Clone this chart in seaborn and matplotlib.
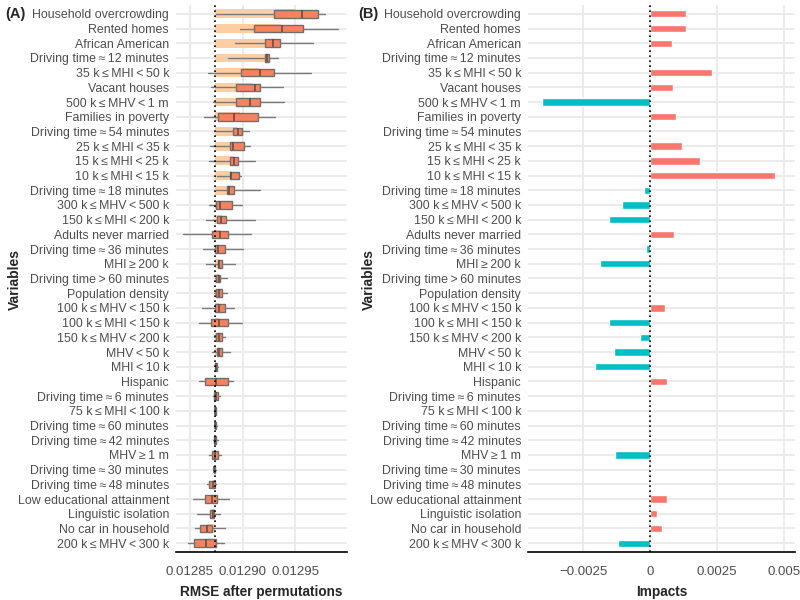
import numpy as np
import pandas as pd
import matplotlib
matplotlib.use("Agg")
import matplotlib.pyplot as plt
import seaborn as sns

sns.set_theme(style="whitegrid")
plt.rcParams['font.family'] = ['Liberation Sans', 'DejaVu Sans']

T = "\u2009"
variables = [
    "Household overcrowding", "Rented homes", "African American",
    f"Driving time{T}≈{T}12 minutes", f"35 k{T}≤{T}MHI{T}<{T}50 k", "Vacant houses",
    f"500 k{T}≤{T}MHV{T}<{T}1 m", "Families in poverty", f"Driving time{T}≈{T}54 minutes",
    f"25 k{T}≤{T}MHI{T}<{T}35 k", f"15 k{T}≤{T}MHI{T}<{T}25 k", f"10 k{T}≤{T}MHI{T}<{T}15 k",
    f"Driving time{T}≈{T}18 minutes", f"300 k{T}≤{T}MHV{T}<{T}500 k", f"150 k{T}≤{T}MHI{T}<{T}200 k",
    "Adults never married", f"Driving time{T}≈{T}36 minutes", f"MHI{T}≥{T}200 k",
    f"Driving time{T}>{T}60 minutes", "Population density", f"100 k{T}≤{T}MHV{T}<{T}150 k",
    f"100 k{T}≤{T}MHI{T}<{T}150 k", f"150 k{T}≤{T}MHV{T}<{T}200 k", f"MHV{T}<{T}50 k",
    f"MHI{T}<{T}10 k", "Hispanic", f"Driving time{T}≈{T}6 minutes",
    f"75 k{T}≤{T}MHI{T}<{T}100 k", f"Driving time{T}≈{T}60 minutes", f"Driving time{T}≈{T}42 minutes",
    f"MHV{T}≥{T}1 m", f"Driving time{T}≈{T}30 minutes", f"Driving time{T}≈{T}48 minutes",
    "Low educational attainment", "Linguistic isolation", "No car in household",
    f"200 k{T}≤{T}MHV{T}<{T}300 k",
]

# Full-model RMSE (dotted reference line)
full_rmse = 0.0128738

# Permutation RMSE summaries
rmse_min = [0.0128748, 0.0128976, 0.0128931, 0.0128865, 0.0128668, 0.0128696, 0.0128715, 0.0128630, 0.0128748,
            0.0128690, 0.0128677, 0.0128757, 0.0128748, 0.0128677, 0.0128649, 0.0128436, 0.0128620, 0.0128649,
            0.0128738, 0.0128729, 0.0128610, 0.0128589, 0.0128731, 0.0128706, 0.0128734, 0.0128589, 0.0128722,
            0.0128731, 0.0128729, 0.0128719, 0.0128677, 0.0128722, 0.0128662, 0.0128525, 0.0128563, 0.0128548,
            0.0128484]
rmse_q1 = [0.0129303, 0.0129112, 0.0129214, 0.0129210, 0.0128982, 0.0128934, 0.0128941, 0.0128770, 0.0128906,
           0.0128877, 0.0128877, 0.0128877, 0.0128855, 0.0128748, 0.0128760, 0.0128712, 0.0128734, 0.0128770,
           0.0128750, 0.0128744, 0.0128738, 0.0128696, 0.0128748, 0.0128753, 0.0128738, 0.0128643, 0.0128729,
           0.0128738, 0.0128734, 0.0128729, 0.0128706, 0.0128725, 0.0128681, 0.0128639, 0.0128690, 0.0128595,
           0.0128538]
rmse_median = [0.0129567, 0.0129372, 0.0129290, 0.0129233, 0.0129163, 0.0129119, 0.0129074, 0.0128915, 0.0128953,
               0.0128906, 0.0128915, 0.0128893, 0.0128874, 0.0128782, 0.0128795, 0.0128786, 0.0128763, 0.0128776,
               0.0128772, 0.0128772, 0.0128772, 0.0128772, 0.0128772, 0.0128772, 0.0128750, 0.0128750, 0.0128748,
               0.0128741, 0.0128741, 0.0128738, 0.0128738, 0.0128731, 0.0128722, 0.0128706, 0.0128715, 0.0128665,
               0.0128652]
rmse_q3 = [0.0129715, 0.0129572, 0.0129360, 0.0129255, 0.0129303, 0.0129163, 0.0129170, 0.0129144, 0.0128995,
           0.0129017, 0.0128960, 0.0128970, 0.0128922, 0.0128896, 0.0128839, 0.0128865, 0.0128830, 0.0128808,
           0.0128786, 0.0128805, 0.0128830, 0.0128865, 0.0128801, 0.0128801, 0.0128760, 0.0128862, 0.0128763,
           0.0128748, 0.0128748, 0.0128744, 0.0128770, 0.0128738, 0.0128741, 0.0128757, 0.0128731, 0.0128706,
           0.0128750]
rmse_max = [0.0129786, 0.0129912, 0.0129668, 0.0129334, 0.0129652, 0.0129386, 0.0129398, 0.0129306, 0.0129058,
            0.0129074, 0.0129115, 0.0128989, 0.0129167, 0.0128991, 0.0129119, 0.0129077, 0.0129005, 0.0128929,
            0.0128852, 0.0128849, 0.0128915, 0.0128995, 0.0128833, 0.0128877, 0.0128767, 0.0128910, 0.0128786,
            0.0128750, 0.0128753, 0.0128763, 0.0128795, 0.0128744, 0.0128748, 0.0128868, 0.0128786, 0.0128833,
            0.0128820]
rmse_mean = [0.0129503, 0.0129370, 0.0129284, 0.0129231, 0.0129160, 0.0129103, 0.0129065, 0.0128979, 0.0128950,
             0.0128941, 0.0128922, 0.0128903, 0.0128884, 0.0128817, 0.0128808, 0.0128793, 0.0128784, 0.0128779,
             0.0128776, 0.0128774, 0.0128772, 0.0128770, 0.0128769, 0.0128767, 0.0128750, 0.0128749, 0.0128747,
             0.0128743, 0.0128741, 0.0128740, 0.0128739, 0.0128734, 0.0128717, 0.0128703, 0.0128698, 0.0128665,
             0.0128646]

# Impacts (right panel)
impacts = [0.001325, 0.001325, 0.000812, -0.00002, 0.00232, 0.00085, -0.00405, 0.000975, -0.00002,
           0.001175, 0.00185, 0.00469, -0.00021, -0.00105, -0.00155, 0.0009, -0.00014, -0.00187,
           0.0, 0.0, 0.00055, -0.00152, -0.000375, -0.00137, -0.00205, 0.000625, 0.0,
           0.00005, 0.0, -0.00001, -0.0013, 0.0, -0.00001, 0.00065, 0.00025, 0.00044, -0.0012]

n = len(variables)
pos = np.arange(n)

fig = plt.figure(figsize=(8, 6), dpi=100)
axA = fig.add_axes([0.22, 0.08, 0.214, 0.9117])
axB = fig.add_axes([0.66, 0.08, 0.334, 0.9117])

grid_c = "#EBEBEB"
tick_c = "#4D4D4D"

# ---- Panel A ----
widths = np.array(rmse_mean) - full_rmse
axA.barh(pos, widths, left=full_rmse, height=0.6, color="#FDCDA3", edgecolor="none", zorder=2)
stats = []
for i in range(n):
    stats.append(dict(med=rmse_median[i], q1=rmse_q1[i], q3=rmse_q3[i],
                      whislo=rmse_min[i], whishi=rmse_max[i], fliers=[]))
axA.bxp(stats, positions=pos, vert=False, widths=0.52, patch_artist=True, showcaps=False,
        boxprops=dict(facecolor="#F9825E", edgecolor="#6E6E6E", linewidth=1.0),
        medianprops=dict(color="#5A4A45", linewidth=1.1),
        whiskerprops=dict(color="#7A7A7A", linewidth=1.0),
        manage_ticks=False, zorder=3)
axA.axvline(full_rmse, color="black", linestyle=(0, (1, 2)), linewidth=1.2, zorder=4)
axA.set_xlim(0.0128367, 0.0129995)
axA.set_xticks([0.01285, 0.01290, 0.01295])
axA.set_xticklabels(["0.01285", "0.01290", "0.01295"])

# ---- Panel B ----
df = pd.DataFrame({"variable": variables, "impact": impacts,
                   "sign": ["pos" if v >= 0 else "neg" for v in impacts]})
sns.barplot(data=df, x="impact", y="variable", hue="sign", orient="h", ax=axB,
            palette={"pos": "#F8766D", "neg": "#00BFC4"}, order=variables,
            dodge=False, width=0.5, legend=False, saturation=1, zorder=2)
axB.axvline(0, color="black", linestyle=(0, (1, 2)), linewidth=1.2, zorder=4)
axB.set_xlim(-0.00457, 0.00543)
axB.set_xticks([-0.0025, 0, 0.0025, 0.005])
axB.set_xticklabels(["\u22120.0025", "0", "0.0025", "0.005"])

for ax in (axA, axB):
    ax.set_yticks(pos)
    ax.set_yticklabels(variables)
    ax.set_ylim(n - 1 + 0.6, -0.6)
    ax.set_facecolor("white")
    ax.grid(True, axis="both", color=grid_c, linewidth=1.5)
    ax.set_axisbelow(True)
    for s in ("left", "right", "top"):
        ax.spines[s].set_visible(False)
    ax.spines["bottom"].set_visible(True)
    ax.spines["bottom"].set_color("black")
    ax.spines["bottom"].set_linewidth(1.2)
    ax.tick_params(axis="both", length=0, labelcolor=tick_c)
    ax.tick_params(axis="y", pad=5, labelsize=8.9)
    ax.tick_params(axis="x", pad=10, labelsize=9.5)
    ax.set_ylabel("Variables", fontsize=10, fontweight="bold")

axA.yaxis.set_label_coords(0.027, 0.535, transform=fig.transFigure)
axB.yaxis.set_label_coords(0.4705, 0.535, transform=fig.transFigure)

axA.set_xlabel("RMSE after permutations", fontsize=9.8, fontweight="bold", labelpad=5)
axB.set_xlabel("Impacts", fontsize=9.8, fontweight="bold", labelpad=5)

fig.text(0.006, 0.977, "(A)", fontsize=10.5, fontweight="bold", va="center", ha="left")
fig.text(0.4475, 0.977, "(B)", fontsize=10.5, fontweight="bold", va="center", ha="left")

fig.savefig("out.png", dpi=100)
